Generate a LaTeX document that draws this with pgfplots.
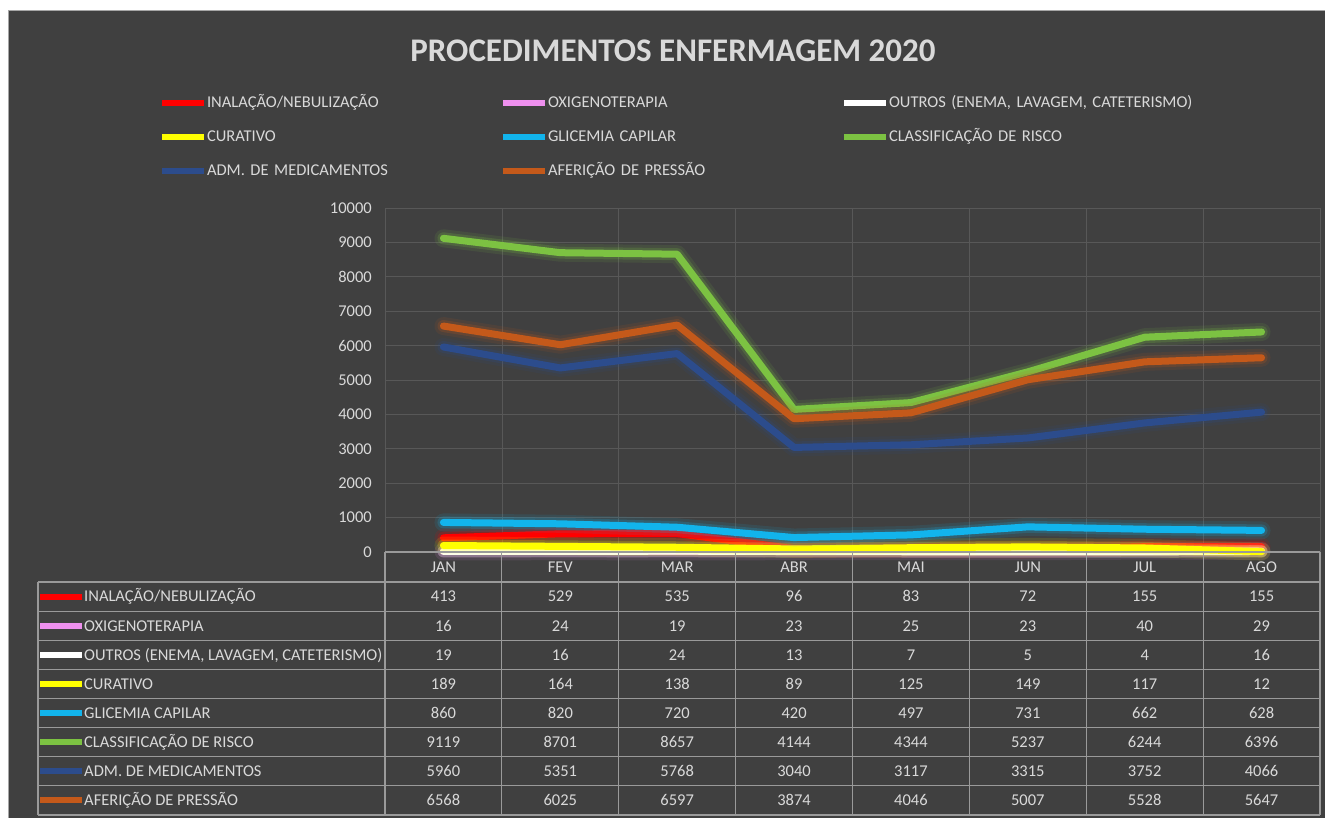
\documentclass[border=0pt]{standalone}
\usepackage{pgfplots}
\usepackage{pgfplotstable}
\pgfplotsset{compat=1.18}
\usepackage{fontspec}
\setmainfont{Carlito}
\definecolor{bgc}{HTML}{404040}
\definecolor{txt}{HTML}{D9D9D9}
\definecolor{gridc}{HTML}{585858}
\definecolor{tabc}{HTML}{9A9A9A}
\definecolor{cRed}{HTML}{FF0000}
\definecolor{cPink}{HTML}{EE90EE}
\definecolor{cWhite}{HTML}{FFFFFF}
\definecolor{cYel}{HTML}{FFFF00}
\definecolor{cCyan}{HTML}{12B4EC}
\definecolor{cGreen}{HTML}{7CC242}
\definecolor{cBlue}{HTML}{2C4C8C}
\definecolor{cOrange}{HTML}{C4591A}
\newcommand\fs{\fontsize{16.5bp}{19bp}\selectfont}

\pgfplotstableread{
x inal oxig outros curat glic class adm afer
0 413 16 19 189 860 9119 5960 6568
1 529 24 16 164 820 8701 5351 6025
2 535 19 24 138 720 8657 5768 6597
3 96 23 13 89 420 4144 3040 3874
4 83 25 7 125 497 4344 3117 4046
5 72 23 5 149 731 5237 3315 5007
6 155 40 4 117 662 6244 3752 5528
7 155 29 16 12 628 6396 4066 5647
}\datatab

\pgfplotsset{
 glowA/.style={forget plot, line width=18bp, opacity=0.11, line join=round, line cap=round, no markers},
 glowB/.style={forget plot, line width=12bp, opacity=0.20, line join=round, line cap=round, no markers},
 mainL/.style={line width=7bp, line join=round, line cap=round, no markers},
}

\begin{document}
\begin{tikzpicture}
\fill[white] (0,0) rectangle (1325bp,-818bp);
\fill[bgc] (8bp,-10bp) rectangle (1325bp,-818bp);
\draw[gray!70, line width=1bp] (8.5bp,-818bp) -- (8.5bp,-10.5bp) -- (1325bp,-10.5bp);
\node[font=\fontsize{33bp}{36bp}\selectfont\bfseries, text=txt, inner sep=0pt] at (673bp,-51bp) {PROCEDIMENTOS ENFERMAGEM 2020};

\begin{axis}[
 at={(385bp,-552bp)}, anchor=south west,
 scale only axis, width=935bp, height=344bp,
 xmin=-0.5, xmax=7.5, ymin=0, ymax=10000,
 xtick={-0.5,0.5,1.5,2.5,3.5,4.5,5.5,6.5,7.5}, xticklabels={},
 ytick={0,1000,2000,3000,4000,5000,6000,7000,8000,9000,10000},
 grid=major, grid style={gridc, line width=0.75bp},
 axis line style={draw=gridc, line width=0.75bp},
 major tick length=0pt,
 /pgf/number format/assume math mode=true,
 scaled y ticks=false,
 yticklabel style={font=\fs, text=txt, inner sep=0pt, xshift=-13bp, /pgf/number format/1000 sep={}},
 clip=false,
 legend columns=3,
 legend cell align=left,
 legend image code/.code={\draw[#1, line width=6bp, line cap=butt, opacity=1] (0bp,0bp) -- (42bp,0bp);},
 legend style={at={(axis description cs:-0.2417,1.3547)}, anchor=north west,
   draw=none, fill=none, inner sep=0pt, outer sep=0pt, row sep=0pt, column sep=0pt,
   font=\fs, text=txt,
   nodes={inner sep=0pt, anchor=west, text height=22bp, text depth=12bp, text width=293bp, align=left}},
]
\addplot[cRed, glowA] table[x=x,y=inal]{\datatab};
\addplot[cRed, glowB] table[x=x,y=inal]{\datatab};
\addplot[cRed, mainL] table[x=x,y=inal]{\datatab};
\addlegendentry{\mbox{INALAÇÃO/NEBULIZAÇÃO}}
\addplot[cPink, glowA] table[x=x,y=oxig]{\datatab};
\addplot[cPink, glowB] table[x=x,y=oxig]{\datatab};
\addplot[cPink, mainL] table[x=x,y=oxig]{\datatab};
\addlegendentry{\mbox{OXIGENOTERAPIA}}
\addplot[cWhite, glowB] table[x=x,y=outros]{\datatab};
\addplot[cWhite, mainL] table[x=x,y=outros]{\datatab};
\addlegendentry{\mbox{OUTROS (ENEMA, LAVAGEM, CATETERISMO)}}
\addplot[cYel, glowA] table[x=x,y=curat]{\datatab};
\addplot[cYel, glowB] table[x=x,y=curat]{\datatab};
\addplot[cYel, mainL] table[x=x,y=curat]{\datatab};
\addlegendentry{\mbox{CURATIVO}}
\addplot[cCyan, glowA] table[x=x,y=glic]{\datatab};
\addplot[cCyan, glowB] table[x=x,y=glic]{\datatab};
\addplot[cCyan, mainL] table[x=x,y=glic]{\datatab};
\addlegendentry{\mbox{GLICEMIA CAPILAR}}
\addplot[cGreen, glowA] table[x=x,y=class]{\datatab};
\addplot[cGreen, glowB] table[x=x,y=class]{\datatab};
\addplot[cGreen, mainL] table[x=x,y=class]{\datatab};
\addlegendentry{\mbox{CLASSIFICAÇÃO DE RISCO}}
\addplot[cBlue, glowA] table[x=x,y=adm]{\datatab};
\addplot[cBlue, glowB] table[x=x,y=adm]{\datatab};
\addplot[cBlue, mainL] table[x=x,y=adm]{\datatab};
\addlegendentry{\mbox{ADM. DE MEDICAMENTOS}}
\addplot[cOrange, glowA] table[x=x,y=afer]{\datatab};
\addplot[cOrange, glowB] table[x=x,y=afer]{\datatab};
\addplot[cOrange, mainL] table[x=x,y=afer]{\datatab};
\addlegendentry{\mbox{AFERIÇÃO DE PRESSÃO}}
\end{axis}

\begin{scope}[x=1bp, y=-1bp]
 % table grid
 \draw[tabc, line width=1.2bp] (385,552) -- (1320,552);
 \foreach \i in {0,...,8} {
   \draw[tabc, line width=1.2bp] (38,{582+29.125*\i}) -- (1320,{582+29.125*\i});
   \draw[tabc, line width=1.2bp] ({385+116.875*\i},552) -- ({385+116.875*\i},815);
 }
 \draw[tabc, line width=1.2bp] (38,582) -- (38,815);
 % month headers
 \foreach \m [count=\k from 0] in {JAN,FEV,MAR,ABR,MAI,JUN,JUL,AGO} {
   \node[font=\fs, text=txt, inner sep=0pt, anchor=base] at ({385+116.875*(\k+0.5)},572.3) {\m};
 }
 % row labels and keys
 \foreach \lab/\col [count=\k from 0] in {{INALAÇÃO/NEBULIZAÇÃO}/cRed, {OXIGENOTERAPIA}/cPink, {OUTROS (ENEMA, LAVAGEM, CATETERISMO)}/cWhite, {CURATIVO}/cYel, {GLICEMIA CAPILAR}/cCyan, {CLASSIFICAÇÃO DE RISCO}/cGreen, {ADM. DE MEDICAMENTOS}/cBlue, {AFERIÇÃO DE PRESSÃO}/cOrange} {
   \draw[\col, line width=6bp] (40,{596.6+29.125*\k}) -- (82,{596.6+29.125*\k});
   \node[font=\fs, text=txt, inner sep=0pt, anchor=base west] at (84,{601.9+29.125*\k}) {\lab};
 }
 % values
 \foreach \c [count=\k from 0] in {inal,oxig,outros,curat,glic,class,adm,afer} {
   \foreach \r in {0,...,7} {
     \pgfplotstablegetelem{\r}{\c}\of\datatab
     \node[font=\fs, text=txt, inner sep=0pt, anchor=base] at ({385+116.875*(\r+0.5)},{601.9+29.125*\k}) {\pgfplotsretval};
   }
 }
\end{scope}
\pgfresetboundingbox
\path (0,0) rectangle (1325bp,-818bp);
\end{tikzpicture}
\end{document}
